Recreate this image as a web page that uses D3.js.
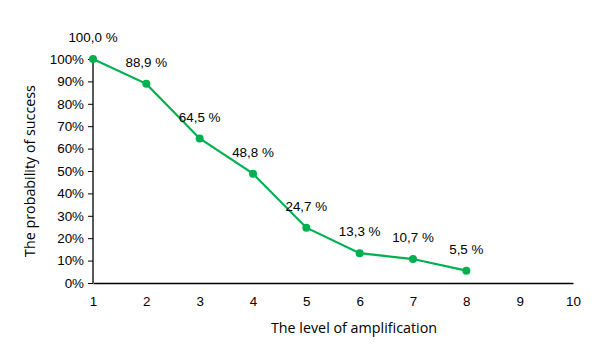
<!DOCTYPE html>
<html><head><meta charset="utf-8">
<script src="https://cdn.jsdelivr.net/npm/d3@7"></script>
<style>body{margin:0;background:#fff;}svg{display:block;font-family:"Liberation Sans",Arial,sans-serif;}</style>
</head><body>
<svg id="c" width="597" height="357"></svg>
<script>
const levels = [1,2,3,4,5,6,7,8];
const probability = [1.0,0.889,0.645,0.488,0.247,0.133,0.107,0.055];
const labels = ["100,0 %","88,9 %","64,5 %","48,8 %","24,7 %","13,3 %","10,7 %","5,5 %"];
const xTicks = [1,2,3,4,5,6,7,8,9,10];
const yTicks = [0,0.1,0.2,0.3,0.4,0.5,0.6,0.7,0.8,0.9,1.0];

const svg = d3.select("#c");
const x = d3.scaleLinear().domain([1,10]).range([93,573]);
const y = d3.scaleLinear().domain([0,1]).range([283,59]);
const green = "#00B050";
const fs = 13.4;

// y axis
const ya = svg.append("g").attr("transform","translate(93,0)")
  .call(d3.axisLeft(y).tickValues(yTicks).tickSize(5).tickPadding(4).tickFormat(d=>Math.round(d*100)+"%"));
ya.select(".domain").attr("stroke","#000").attr("stroke-width",1.3).attr("d","M0,283V59");
ya.selectAll("text").attr("font-size",fs).attr("fill","#000").attr("font-family","Liberation Sans, Arial, sans-serif");
ya.selectAll("line").attr("stroke","#000");

// x axis
const xa = svg.append("g").attr("transform","translate(0,283)")
  .call(d3.axisBottom(x).tickValues(xTicks).tickSize(0).tickPadding(13).tickFormat(d3.format("d")));
xa.select(".domain").attr("stroke","#000").attr("stroke-width",1.3);
xa.selectAll("text").attr("font-size",fs).attr("fill","#000").attr("font-family","Liberation Sans, Arial, sans-serif");

// line
const pts = levels.map((l,i)=>({l, p:probability[i], t:labels[i]}));
svg.append("path").datum(pts)
  .attr("fill","none").attr("stroke",green).attr("stroke-width",2.2)
  .attr("d", d3.line().x(d=>x(d.l)).y(d=>y(d.p)));
svg.selectAll("circle.m").data(pts).join("circle")
  .attr("cx",d=>x(d.l)).attr("cy",d=>y(d.p)).attr("r",4).attr("fill",green);
svg.selectAll("text.lab").data(pts).join("text")
  .attr("x",d=>x(d.l)).attr("y",d=>y(d.p)-17)
  .attr("text-anchor","middle").attr("font-size",fs).attr("fill","#000")
  .text(d=>d.t);

// titles
svg.append("text").attr("x",354).attr("y",333).attr("text-anchor","middle")
  .attr("font-family","Open Sans, sans-serif")
  .attr("font-size",14.3).attr("fill","#000").text("The level of amplification");
svg.append("text").attr("transform","translate(35,171) rotate(-90)").attr("text-anchor","middle")
  .attr("font-family","Open Sans, sans-serif")
  .attr("font-size",14.3).attr("fill","#000").text("The probability of success");
</script>
</body></html>
